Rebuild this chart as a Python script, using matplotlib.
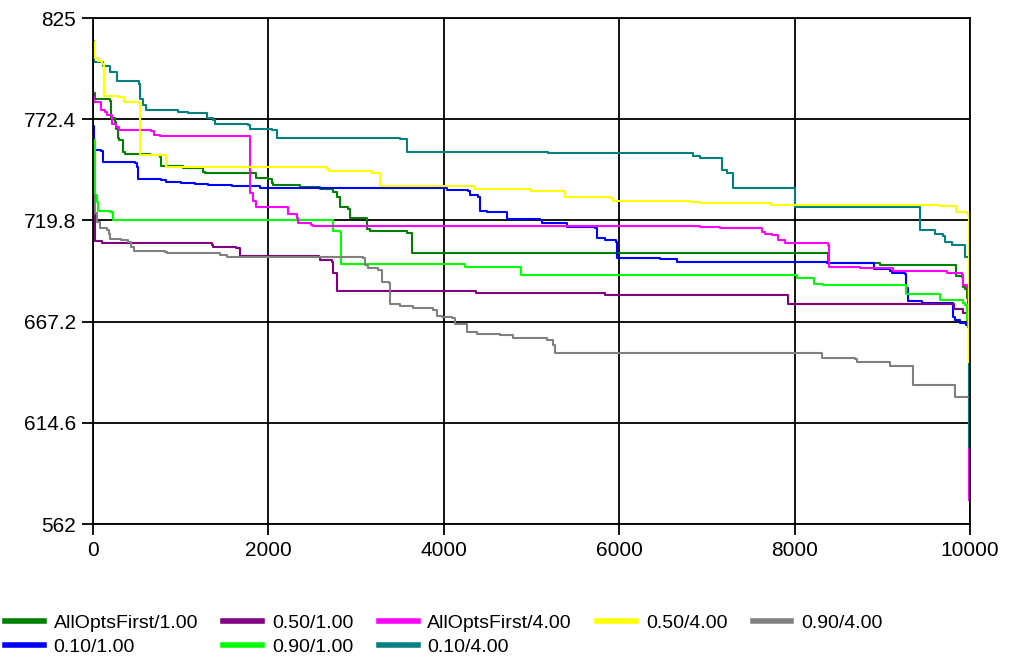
import matplotlib
matplotlib.use("Agg")
import matplotlib.pyplot as plt

plt.rcParams['font.family'] = ['Liberation Sans', 'DejaVu Sans']

# --- datos (iteracion, valor) ---
green_x = [0, 23, 194, 200, 205, 247, 266, 288, 302, 342, 365, 650, 761, 772, 1030, 1258, 1277,
           1853, 1999, 2038, 2056, 2360, 2588, 2740, 2779, 2817, 2911, 2925, 3121, 3159, 3538, 3577,
           3634, 8385, 8974, 9841, 9906, 9921, 9943, 9962, 9978, 10000]
green_y = [785.8, 782.9, 781.9, 777.2, 772.9, 771.1, 767.3, 762.4, 761.6, 755.5, 754.3, 753.8, 752.9,
           748.1, 746.9, 745.1, 744.3, 741.7, 741.1, 739.0, 738.2, 737.3, 736.0, 734.6, 732.0, 726.6,
           725.7, 721.0, 715.2, 714.4, 714.3, 713.4, 702.7, 697.9, 696.6, 690.9, 690.4, 685.3, 684.1,
           679.3, 676.9, 676.9]

blue_x = [0, 8, 23, 95, 114, 476, 505, 517, 779, 836, 1007, 1163, 1311, 1582, 1904, 3995, 4034, 4280,
          4299, 4394, 4413, 4489, 4717, 4724, 5097, 5116, 5402, 5724, 5744, 5838, 5964, 5972, 6466,
          6656, 8366, 8906, 9088, 9111, 9259, 9274, 9297, 9450, 9801, 9829, 9886, 9954, 9977, 10000]
blue_y = [768.9, 758.2, 756.4, 755.9, 750.3, 749.5, 747.7, 741.2, 740.8, 739.5, 739.1, 738.7, 738.2,
          737.5, 736.9, 736.5, 735.6, 735.1, 733.0, 732.1, 724.8, 724.3, 723.5, 720.4, 720.0, 718.3,
          716.5, 715.7, 710.5, 709.6, 708.7, 700.1, 699.7, 698.3, 697.8, 694.4, 693.6, 692.6, 691.9,
          684.5, 677.9, 677.1, 669.7, 667.8, 666.3, 665.4, 664.5, 664.5]

purple_x = [0, 11, 23, 97, 1354, 1372, 1543, 1631, 1676, 2577, 2588, 2722, 2740, 2779, 4367, 5838,
            7926, 9818, 9921, 9970, 10000]
purple_y = [746.0, 722.6, 709.3, 708.0, 707.0, 706.1, 705.8, 705.2, 701.1, 700.8, 699.0, 698.2, 692.6,
            683.1, 681.9, 681.0, 676.3, 673.5, 671.7, 671.1, 671.1]

lime_x = [0, 19, 42, 57, 194, 228, 2742, 2817, 2831, 4242, 4875, 8033, 8221, 8324, 9271, 9653, 9915,
          9943, 9962, 9980, 10000]
lime_y = [761.6, 733.0, 729.4, 724.7, 724.0, 720.0, 714.4, 714.0, 697.1, 695.4, 691.2, 689.7, 686.7,
          686.1, 681.6, 678.2, 677.1, 675.8, 668.0, 664.5, 664.5]

magenta_x = [0, 17, 86, 133, 154, 211, 222, 266, 296, 667, 690, 764, 1790, 1824, 1859, 2224, 2323,
             2341, 2486, 2509, 6921, 7149, 7625, 7662, 7739, 7814, 7891, 8214, 8385, 8396, 8746, 9126,
             9735, 9906, 9917, 9962, 9981, 9990]
magenta_y = [784.2, 781.5, 777.2, 776.4, 774.6, 774.1, 769.9, 768.4, 766.8, 766.5, 764.2, 763.7, 733.8,
             729.9, 726.8, 723.1, 720.9, 718.6, 717.4, 716.9, 716.5, 716.0, 713.9, 712.7, 712.2, 709.6,
             708.3, 707.9, 707.0, 695.6, 694.9, 693.7, 692.6, 691.4, 686.2, 684.9, 678.4, 574.5]

teal_x = [0, 17, 114, 194, 268, 519, 536, 570, 604, 969, 1083, 1296, 1368, 1391, 1771, 1790, 2041,
          2098, 3501, 3577, 5188, 6636, 6842, 6921, 7169, 7226, 7301, 7640, 8005, 9430, 9601, 9693,
          9716, 9792, 9943, 9990]
teal_y = [813.0, 802.0, 800.0, 797.0, 792.0, 790.7, 783.0, 779.8, 777.0, 776.3, 775.8, 772.9, 772.0,
          769.9, 769.2, 767.1, 766.8, 762.5, 762.0, 755.5, 755.0, 754.7, 753.3, 752.1, 746.0, 744.3,
          736.9, 736.5, 726.9, 714.8, 712.7, 711.7, 708.7, 707.0, 700.9, 602.0]

yellow_x = [0, 11, 57, 97, 125, 285, 353, 519, 536, 827, 2668, 2687, 3178, 3273, 4345, 4356, 4994,
            5382, 5895, 5933, 6805, 6921, 7731, 9658, 9841, 9966, 9980, 9992]
yellow_y = [812.5, 804.0, 802.6, 801.3, 784.2, 783.7, 781.5, 780.8, 754.0, 747.3, 746.5, 745.6, 744.3,
            737.7, 736.9, 736.1, 735.3, 732.1, 731.3, 730.0, 729.5, 729.0, 727.8, 727.3, 724.4, 723.4,
            722.6, 646.2]

gray_x = [0, 23, 40, 76, 154, 177, 194, 323, 403, 428, 462, 818, 844, 1334, 1448, 1528, 3082, 3101,
          3139, 3250, 3292, 3379, 3387, 3501, 3652, 3880, 3919, 3976, 4090, 4128, 4261, 4270, 4375,
          4641, 4793, 5174, 5249, 5268, 8309, 8689, 8708, 9088, 9347, 9829, 10000]
gray_y = [733.0, 723.4, 719.0, 715.7, 714.8, 712.7, 709.9, 709.6, 708.8, 706.0, 704.1, 703.6, 702.8,
          702.6, 701.8, 700.6, 700.1, 696.6, 694.9, 694.0, 687.9, 687.3, 676.1, 675.3, 674.5, 673.2,
          670.1, 669.4, 668.9, 666.0, 665.4, 662.0, 660.7, 660.0, 658.7, 657.6, 655.0, 650.7, 648.1,
          647.6, 646.3, 644.1, 634.2, 627.8, 627.8]

series = [
    ("AllOptsFirst/1.00", green_x, green_y, "#008000"),
    ("0.10/1.00", blue_x, blue_y, "#0000FF"),
    ("0.50/1.00", purple_x, purple_y, "#800080"),
    ("0.90/1.00", lime_x, lime_y, "#00FF00"),
    ("AllOptsFirst/4.00", magenta_x, magenta_y, "#FF00FF"),
    ("0.10/4.00", teal_x, teal_y, "#008080"),
    ("0.50/4.00", yellow_x, yellow_y, "#FFFF00"),
    ("0.90/4.00", gray_x, gray_y, "#808080"),
]

y_ticks = [562, 614.6, 667.2, 719.8, 772.4, 825]
y_labels = ["562", "614.6", "667.2", "719.8", "772.4", "825"]
x_ticks = [0, 2000, 4000, 6000, 8000, 10000]

fig = plt.figure(figsize=(10.1, 6.62), dpi=100)
ax = fig.add_axes([93/1010, 1 - 524/662, 877/1010, 506/662])

for label, xs, ys, c in series:
    ax.plot(xs, ys, drawstyle="steps-post", color=c, lw=1.5, label=label)

ax.set_xlim(0, 10000)
ax.set_ylim(562, 825)
ax.set_yticks(y_ticks)
ax.set_yticklabels(y_labels)
ax.set_xticks(x_ticks)
ax.grid(True, color="black", lw=1.3)
ax.set_axisbelow(True)
for s in ax.spines.values():
    s.set_linewidth(1.3)
ax.tick_params(length=8, width=1.3, labelsize=15, pad=4)

leg = fig.legend(loc="upper left", bbox_to_anchor=(5/1010, 1 - 614/662), ncol=5,
                 frameon=False, fontsize=14, handlelength=2.0, handletextpad=0.5,
                 columnspacing=1.3, labelspacing=0.35, borderpad=0, borderaxespad=0)
for h in leg.get_lines():
    h.set_linewidth(4)

fig.savefig("out.png", dpi=100)
